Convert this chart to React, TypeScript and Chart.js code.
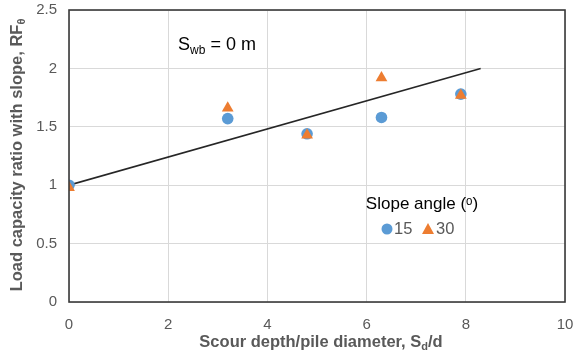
import React, { useEffect, useRef } from "react";
import { Chart, registerables } from "chart.js";

Chart.register(...registerables);

// Data
const scourRatio = [0, 3.2, 4.8, 6.3, 7.9];
const rfSlope15 = [1.0, 1.57, 1.44, 1.58, 1.78];
const rfSlope30 = [0.98, 1.66, 1.43, 1.92, 1.77];
const trendX = [0, 8.3];
const trendY = [1.0, 2.0];
const legendTitle = "Slope angle (ᵒ)";
const legendLabels = ["15", "30"];

const BLUE = "#5B9BD5";
const ORANGE = "#ED7D31";
const GRAY = "#595959";
const FONT = "'Liberation Sans', Arial, sans-serif";

type Seg = { t: string; sub?: boolean };

function richWidth(ctx: CanvasRenderingContext2D, segs: Seg[], size: number, weight: string) {
  let w = 0;
  for (const s of segs) {
    ctx.font = `${weight} ${s.sub ? Math.round(size * 0.65) : size}px ${FONT}`;
    w += ctx.measureText(s.t).width;
  }
  return w;
}

function drawRich(
  ctx: CanvasRenderingContext2D,
  segs: Seg[],
  cx: number,
  cy: number,
  size: number,
  weight: string,
  color: string,
  align: "center" | "left" = "center"
) {
  const w = richWidth(ctx, segs, size, weight);
  let x = align === "center" ? cx - w / 2 : cx;
  ctx.fillStyle = color;
  ctx.textBaseline = "middle";
  ctx.textAlign = "left";
  for (const s of segs) {
    const sz = s.sub ? Math.round(size * 0.65) : size;
    ctx.font = `${weight} ${sz}px ${FONT}`;
    ctx.fillText(s.t, x, s.sub ? cy + size * 0.3 : cy);
    x += ctx.measureText(s.t).width;
  }
}

const overlayPlugin = {
  id: "overlay",
  afterDatasetsDraw(chart: any) {
    const ctx = chart.ctx as CanvasRenderingContext2D;
    const a = chart.chartArea;
    ctx.save();
    // plot frame
    ctx.strokeStyle = "#3a3a3a";
    ctx.lineWidth = 1.6;
    ctx.strokeRect(a.left, a.top, a.right - a.left, a.bottom - a.top);

    // annotation
    drawRich(ctx, [{ t: "S" }, { t: "wb", sub: true }, { t: " = 0 m" }], 217, 45, 18, "normal", "#000");

    // axis titles
    drawRich(
      ctx,
      [{ t: "Scour depth/pile diameter, S" }, { t: "d", sub: true }, { t: "/d" }],
      321,
      342,
      16.5,
      "bold",
      GRAY
    );
    ctx.save();
    ctx.translate(17, 155);
    ctx.rotate(-Math.PI / 2);
    drawRich(ctx, [{ t: "Load capacity ratio with slope, RF" }, { t: "θ", sub: true }], 0, 0, 16.5, "bold", GRAY);
    ctx.restore();

    // legend
    drawRich(ctx, [{ t: legendTitle }], 422, 204, 17, "normal", "#000");
    const ly = 229;
    ctx.fillStyle = BLUE;
    ctx.beginPath();
    ctx.arc(387, ly, 5.5, 0, Math.PI * 2);
    ctx.fill();
    drawRich(ctx, [{ t: legendLabels[0] }], 394, ly, 16.5, "normal", GRAY, "left");
    ctx.fillStyle = ORANGE;
    ctx.beginPath();
    ctx.moveTo(428, ly - 6);
    ctx.lineTo(434, ly + 5);
    ctx.lineTo(422, ly + 5);
    ctx.closePath();
    ctx.fill();
    drawRich(ctx, [{ t: legendLabels[1] }], 436, ly, 16.5, "normal", GRAY, "left");
    ctx.restore();
  },
};

export default function App() {
  const ref = useRef<HTMLCanvasElement | null>(null);
  useEffect(() => {
    if (!ref.current) return;
    const chart = new Chart(ref.current, {
      type: "scatter",
      data: {
        datasets: [
          {
            label: legendLabels[1],
            data: scourRatio.map((x, i) => ({ x, y: rfSlope30[i] })),
            pointStyle: "triangle",
            pointRadius: 6.8,
            backgroundColor: ORANGE,
            borderColor: ORANGE,
            borderWidth: 0,
            order: 0,
          },
          {
            label: legendLabels[0],
            data: scourRatio.map((x, i) => ({ x, y: rfSlope15[i] })),
            pointStyle: "circle",
            pointRadius: 5.8,
            backgroundColor: BLUE,
            borderColor: BLUE,
            borderWidth: 0,
            order: 1,
          },
          {
            type: "line",
            label: "trend",
            data: trendX.map((x, i) => ({ x, y: trendY[i] })),
            borderColor: "#262626",
            borderWidth: 1.6,
            pointRadius: 0,
            showLine: true,
            fill: false,
            order: 2,
          } as any,
        ],
      },
      options: {
        responsive: false,
        animation: false,
        devicePixelRatio: 1,
        layout: { padding: { left: 0, right: 16, top: 10, bottom: 0 } },
        plugins: { legend: { display: false }, tooltip: { enabled: false } },
        scales: {
          x: {
            type: "linear",
            min: 0,
            max: 10,
            afterFit: (s: any) => {
              s.height = 51;
              s.paddingLeft = 0;
              s.paddingRight = 0;
            },
            ticks: { stepSize: 2, color: GRAY, font: { family: FONT, size: 15 }, padding: 14 },
            grid: { color: "#d9d9d9", lineWidth: 1, drawTicks: false },
            border: { display: false },
          },
          y: {
            type: "linear",
            min: 0,
            max: 2.5,
            afterFit: (s: any) => {
              s.width = 69;
              s.paddingTop = 0;
              s.paddingBottom = 0;
            },
            ticks: {
              stepSize: 0.5,
              color: GRAY,
              font: { family: FONT, size: 15 },
              padding: 12,
              callback: (v: any) => String(v),
            },
            grid: { color: "#d9d9d9", lineWidth: 1, drawTicks: false },
            border: { display: false },
          },
        },
      },
      plugins: [overlayPlugin],
    } as any);
    return () => chart.destroy();
  }, []);
  return (
    <div style={{ position: "absolute", left: 0, top: 0, width: 581, height: 353, background: "#fff" }}>
      <canvas ref={ref} width={581} height={353} />
    </div>
  );
}
